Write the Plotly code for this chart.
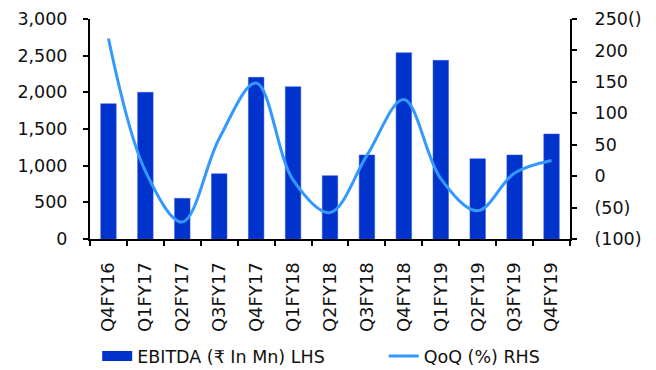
import plotly.graph_objects as go

categories = ["Q4FY16", "Q1FY17", "Q2FY17", "Q3FY17", "Q4FY17", "Q1FY18", "Q2FY18",
              "Q3FY18", "Q4FY18", "Q1FY19", "Q2FY19", "Q3FY19", "Q4FY19"]
ebitda = [1845, 2000, 555, 890, 2205, 2077, 863, 1145, 2540, 2436, 1095, 1145, 1432]
qoq = [219, 8, -73, 60, 148, -6, -58, 33, 122, -4, -55, 5, 25]

left_ticks = [0, 500, 1000, 1500, 2000, 2500, 3000]
left_labels = ["0", "500", "1,000", "1,500", "2,000", "2,500", "3,000"]
right_ticks = [-100, -50, 0, 50, 100, 150, 200, 250]
right_labels = ["(100)", "(50)", "0", "50", "100", "150", "200", "250()"]

bar_color = "#0033CC"
line_color = "#3399FF"

num_font = dict(family="DejaVu Sans", size=17.5, color="#111111")
xlab_font = dict(family="DejaVu Sans", size=18, color="#111111")
leg_font = dict(family="DejaVu Sans", size=17.5, color="#111111")

fig = go.Figure()
fig.add_trace(go.Bar(
    x=categories, y=ebitda, name="EBITDA (₹ In Mn) LHS",
    marker=dict(color=bar_color, line=dict(color="#3355DD", width=0.5)),
    width=0.42, yaxis="y", showlegend=False,
))
# legend-only entry for the bars (wide rectangle swatch)
fig.add_trace(go.Scatter(
    x=[None], y=[None], name="EBITDA (₹ In Mn) LHS", mode="lines",
    line=dict(color=bar_color, width=11), yaxis="y", showlegend=True, legend="legend",
))
fig.add_trace(go.Scatter(
    x=categories, y=qoq, name="QoQ (%) RHS", mode="lines",
    line=dict(color=line_color, width=3, shape="spline", smoothing=1.0),
    yaxis="y2", legend="legend2",
))

fig.update_layout(
    width=656, height=370,
    margin=dict(l=90, r=86, t=19, b=131, autoexpand=False),
    plot_bgcolor="white", paper_bgcolor="white",
    showlegend=True,
    legend=dict(orientation="h", x=0.015, xanchor="left", y=-0.532, yanchor="middle",
                font=leg_font, itemwidth=30, bgcolor="rgba(0,0,0,0)"),
    legend2=dict(orientation="h", x=0.612, xanchor="left", y=-0.532, yanchor="middle",
                 font=leg_font, itemwidth=30, bgcolor="rgba(0,0,0,0)"),
    xaxis=dict(
        type="category", tickangle=-90, tickfont=xlab_font, automargin=False,
        showline=True, linecolor="black", linewidth=2,
        ticks="outside", ticklen=5, tickcolor="black", tickwidth=2,
        tickson="boundaries", showgrid=False, ticklabelstandoff=14,
    ),
    yaxis=dict(
        range=[0, 3000], tickvals=left_ticks, ticktext=left_labels, automargin=False,
        tickfont=num_font, showline=True, linecolor="black", linewidth=2,
        ticks="outside", ticklen=5, tickcolor="black", tickwidth=2,
        showgrid=False, zeroline=False, ticklabelstandoff=12,
    ),
    yaxis2=dict(
        range=[-100, 250], tickvals=right_ticks, ticktext=right_labels, automargin=False,
        tickfont=num_font, overlaying="y", side="right", anchor="x",
        showline=True, linecolor="black", linewidth=2,
        ticks="outside", ticklen=5, tickcolor="black", tickwidth=2,
        showgrid=False, zeroline=False, ticklabelstandoff=14,
    ),
    bargap=0.58,
)

fig.write_html("out.html")
